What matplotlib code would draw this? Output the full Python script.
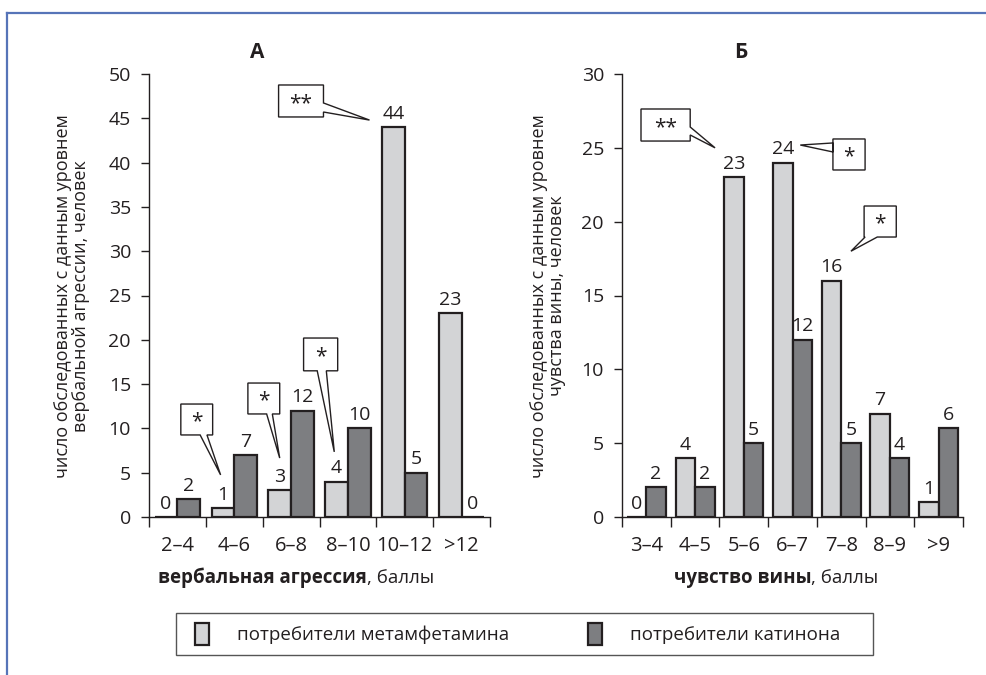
import matplotlib.pyplot as plt
import numpy as np
from matplotlib.patches import Polygon, Rectangle
from matplotlib.lines import Line2D

plt.rcParams['font.family'] = ['Open Sans', 'DejaVu Sans']

# вербальная агрессия
cats_a = ['2–4', '4–6', '6–8', '8–10', '10–12', '>12']
meth_a = [0, 1, 3, 4, 44, 23]
cath_a = [2, 7, 12, 10, 5, 0]

# чувство вины
cats_b = ['3–4', '4–5', '5–6', '6–7', '7–8', '8–9', '>9']
meth_b = [0, 4, 23, 24, 16, 7, 1]
cath_b = [2, 2, 5, 12, 5, 4, 6]

light = '#d3d4d6'
dark = '#7d7e81'
edge = '#231f20'

W, H = 986, 675
fig = plt.figure(figsize=(W / 100, H / 100), dpi=100)


def px_axes(x0, y0, x1, y1):
    return fig.add_axes([x0 / W, 1 - y1 / H, (x1 - x0) / W, (y1 - y0) / H])


def bubble(ax, box, side, base, tip, text):
    # box = (x0, y0, x1, y1) in data units, tail attached to one side
    x0, y0, x1, y1 = box
    b0, b1 = base
    if side == 'right':
        pts = [(x0, y0), (x1, y0), (x1, b1), tip, (x1, b0), (x1, y1), (x0, y1)]
    elif side == 'left':
        pts = [(x0, y0), (x1, y0), (x1, y1), (x0, y1), (x0, b0), tip, (x0, b1)]
    else:  # bottom
        pts = [(x0, y0), (x1, y0), (x1, y1), (b1, y1), tip, (b0, y1), (x0, y1)]
    ax.add_patch(Polygon(pts, closed=True, facecolor='white', edgecolor=edge,
                         linewidth=1.0, zorder=5, clip_on=False))
    ax.text((x0 + x1) / 2, (y0 + y1) / 2 - (y0 - y1) * 0.08, text, ha='center', va='center',
            fontsize=15, zorder=6, color=edge)


def panel(ax, cats, meth, cath, ymax, ystep):
    x = np.arange(len(cats))
    w = 0.4
    ax.bar(x - w / 2, meth, w, color=light, edgecolor=edge, linewidth=1.6, zorder=3)
    ax.bar(x + w / 2, cath, w, color=dark, edgecolor=edge, linewidth=1.6, zorder=3)
    off = ymax * 0.01
    for xi, m, c in zip(x, meth, cath):
        ax.text(xi - w / 2, m + off, str(m), ha='center', va='bottom', fontsize=14, color=edge)
        ax.text(xi + w / 2, c + off, str(c), ha='center', va='bottom', fontsize=14, color=edge)
    ax.set_xlim(-0.5, len(cats) - 0.5)
    ax.set_ylim(0, ymax)
    ax.set_yticks(np.arange(0, ymax + 1, ystep))
    ax.set_xticks(x)
    ax.set_xticklabels(cats)
    ax.set_xticks(np.arange(len(cats) + 1) - 0.5, minor=True)
    ax.tick_params(axis='x', which='major', length=0, pad=14, labelsize=14.5, colors=edge)
    ax.tick_params(axis='x', which='minor', length=7, width=1, direction='out', colors=edge)
    ax.tick_params(axis='y', length=6, width=1, direction='out', pad=7, labelsize=14, colors=edge)
    for s in ('top', 'right'):
        ax.spines[s].set_visible(False)
    for s in ('left', 'bottom'):
        ax.spines[s].set_color(edge)
        ax.spines[s].set_linewidth(1.0)


ax1 = px_axes(149, 74, 490, 517)
panel(ax1, cats_a, meth_a, cath_a, 50, 5)
ax2 = px_axes(622, 74, 963, 517)
panel(ax2, cats_b, meth_b, cath_b, 30, 5)

bubble(ax1, (1.78, 48.76, 2.57, 45.15), 'right', (45.71, 46.73), (3.38, 44.8), '**')
bubble(ax1, (0.06, 12.75, 0.62, 9.26), 'bottom', (0.40, 0.52), (0.76, 4.75), '*')
bubble(ax1, (1.24, 15.12, 1.80, 11.63), 'bottom', (1.57, 1.67), (1.80, 6.65), '*')
bubble(ax1, (2.22, 20.2, 2.82, 16.5), 'bottom', (2.46, 2.62), (2.76, 7.35), '*')

bubble(ax2, (-0.11, 27.63, 0.90, 25.46), 'right', (25.87, 26.41), (1.41, 25.0), '**')
bubble(ax2, (3.83, 25.6, 4.49, 23.5), 'left', (25.33, 24.72), (3.16, 25.19), '*')
bubble(ax2, (4.47, 21.06, 5.13, 18.96), 'bottom', (4.49, 4.74), (4.2, 18.0), '*')

# подписи осей
ylab_a = 'число обследованных с данным уровнем\nвербальной агрессии, человек'
ylab_b = 'число обследованных с данным уровнем\nчувства вины, человек'
fig.text(72 / W, 1 - 296 / H, ylab_a, rotation=90, ha='center', va='center',
         fontsize=13, color=edge, linespacing=1.05)
fig.text(548 / W, 1 - 296 / H, ylab_b, rotation=90, ha='center', va='center',
         fontsize=13, color=edge, linespacing=1.05)

fig.text(257 / W, 1 - 52 / H, 'А', ha='center', va='center', fontsize=15,
         fontweight='bold', color=edge)
fig.text(741 / W, 1 - 52 / H, 'Б', ha='center', va='center', fontsize=15,
         fontweight='bold', color=edge)

renderer = fig.canvas.get_renderer()


def xlabel(cx, bold, rest):
    t1 = fig.text(0, 1 - 578 / H, bold, ha='left', va='center', fontsize=13.5,
                  fontweight='bold', color=edge)
    t2 = fig.text(0, 1 - 578 / H, rest, ha='left', va='center', fontsize=13.5, color=edge)
    w1 = t1.get_window_extent(renderer).width
    w2 = t2.get_window_extent(renderer).width
    start = cx - (w1 + w2) / 2
    t1.set_x(start / W)
    t2.set_x((start + w1) / W)


xlabel(296, 'вербальная агрессия', ', баллы')
xlabel(776, 'чувство вины', ', баллы')

# легенда: рамка отдельно, записи без рамки
fig.add_artist(Rectangle((176 / W, 1 - 655 / H), 697 / W, 42 / H, transform=fig.transFigure,
                         facecolor='white', edgecolor='#555555', linewidth=1.0))
handles = [Rectangle((0, 0), 1, 1, facecolor=light, edgecolor=edge, linewidth=1.6),
           Rectangle((0, 0), 1, 1, facecolor=dark, edgecolor=edge, linewidth=1.6)]
leg = fig.legend(handles, ['потребители метамфетамина', 'потребители катинона'],
                 loc='center left', bbox_to_anchor=(195 / W, 1 - 634 / H), ncol=2,
                 fontsize=13.5, frameon=False, handlelength=0.75,
                 handleheight=1.35, handletextpad=1.5, columnspacing=4.2,
                 borderpad=0, borderaxespad=0)
for t in leg.get_texts():
    t.set_color(edge)

# рамка
frame = '#5674b8'
fig.add_artist(Line2D([7 / W, 1], [1 - 13 / H, 1 - 13 / H], color=frame, linewidth=1.6))
fig.add_artist(Line2D([7 / W, 7 / W], [0, 1 - 13 / H], color=frame, linewidth=1.6))

fig.savefig('out.png', dpi=100)
